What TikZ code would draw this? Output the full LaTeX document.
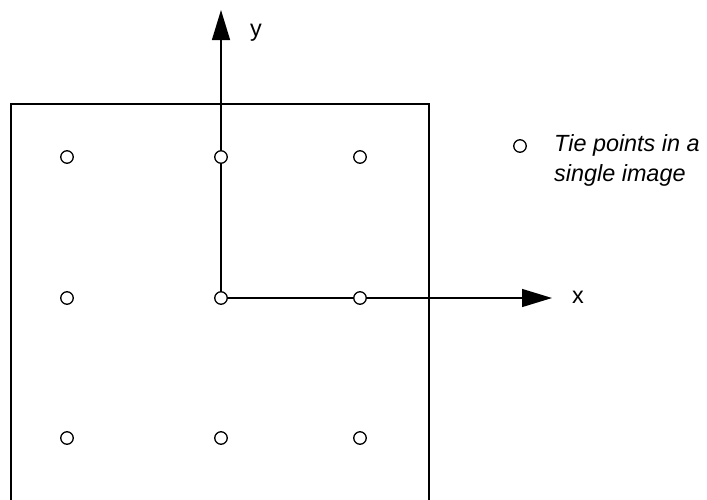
\documentclass[tikz,border=0pt]{standalone}
\usepackage{fontspec}
\setmainfont{Liberation Sans}
\usetikzlibrary{arrows.meta}
\begin{document}
\begin{tikzpicture}[x=1pt,y=-1pt,
  tie/.style={circle,draw,line width=1.3pt,fill=white,minimum size=12.5pt,inner sep=0pt},
  axis/.style={line width=1.3pt,-{Triangle[length=30pt,width=18pt]}},
  lbl/.style={font=\fontsize{23.4}{30}\selectfont,inner sep=0pt}]
\useasboundingbox (0,0) rectangle (707,499);
\draw[line width=1.3pt] (11,520) -- (11,104) -- (429,104) -- (429,520);
\coordinate (ytip) at (221,10);
\coordinate (xtip) at (552,298);
\draw[axis] (221,298) -- (ytip);
\draw[axis] (221,298) -- (xtip);
\node[tie] (p11) at (67,157) {};
\node[tie] (p12) at (221,157) {};
\node[tie] (p13) at (360,157) {};
\node[tie] (p21) at (67,298) {};
\node[tie] (p22) at (221,298) {};
\node[tie] (p23) at (360,298) {};
\node[tie] (p31) at (67,438) {};
\node[tie] (p32) at (221,438) {};
\node[tie] (p33) at (360,438) {};
\node[lbl] (ylbl) at (256,33) {y};
\node[lbl] (xlbl) at (578,297) {x};
\node[tie] (leg) at (520,146) {};
\node[lbl,anchor=north west,align=left,font=\fontsize{23.4}{30}\selectfont\itshape] (legtxt) at (554,134) {Tie points in a\\single image};
\end{tikzpicture}
\end{document}
